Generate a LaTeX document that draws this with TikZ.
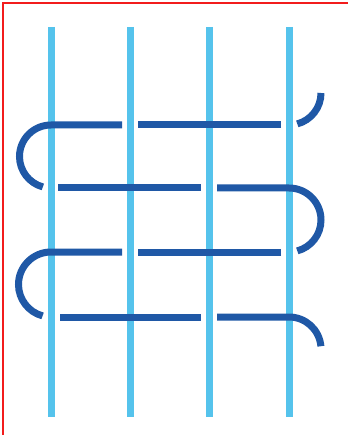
\documentclass[tikz,border=0pt]{standalone}
\definecolor{warpc}{HTML}{55C3EC}
\definecolor{weftc}{HTML}{1F58A6}
\definecolor{framec}{HTML}{F21C1C}
\begin{document}
\begin{tikzpicture}[x=1pt,y=-1pt,
  warp/.style={draw=warpc,line width=7pt},
  weft/.style={draw=weftc,line width=7pt,line cap=butt},
  frameline/.style={draw=framec,line width=2.5pt}]
\useasboundingbox (0,0) rectangle (348,435);
\fill[white] (0,0) rectangle (348,435);
\draw[frameline] (3,435) -- (3,3) -- (348,3);
% warps
\foreach \x in {51,130,209,289}{
  \draw[warp] (\x,27) -- (\x,417);
}
% row 1
\draw[weft] (321,93) arc[start angle=0,end angle=75,radius=32];
\draw[weft] (281,125) -- (138,125);
\draw[weft] (122,125) -- (51,125) arc[start angle=270,end angle=105,radius=31.5];
% row 2
\draw[weft] (58,188) -- (201,188);
\draw[weft] (217,188) -- (289,188) arc[start angle=-90,end angle=75,radius=32];
% row 3
\draw[weft] (281,252) -- (138,252);
\draw[weft] (122,252) -- (51,252) arc[start angle=270,end angle=105,radius=32.5];
% row 4
\draw[weft] (60,317) -- (201,317);
\draw[weft] (217,317) -- (289,317) arc[start angle=-90,end angle=-5,radius=32];
\end{tikzpicture}
\end{document}
